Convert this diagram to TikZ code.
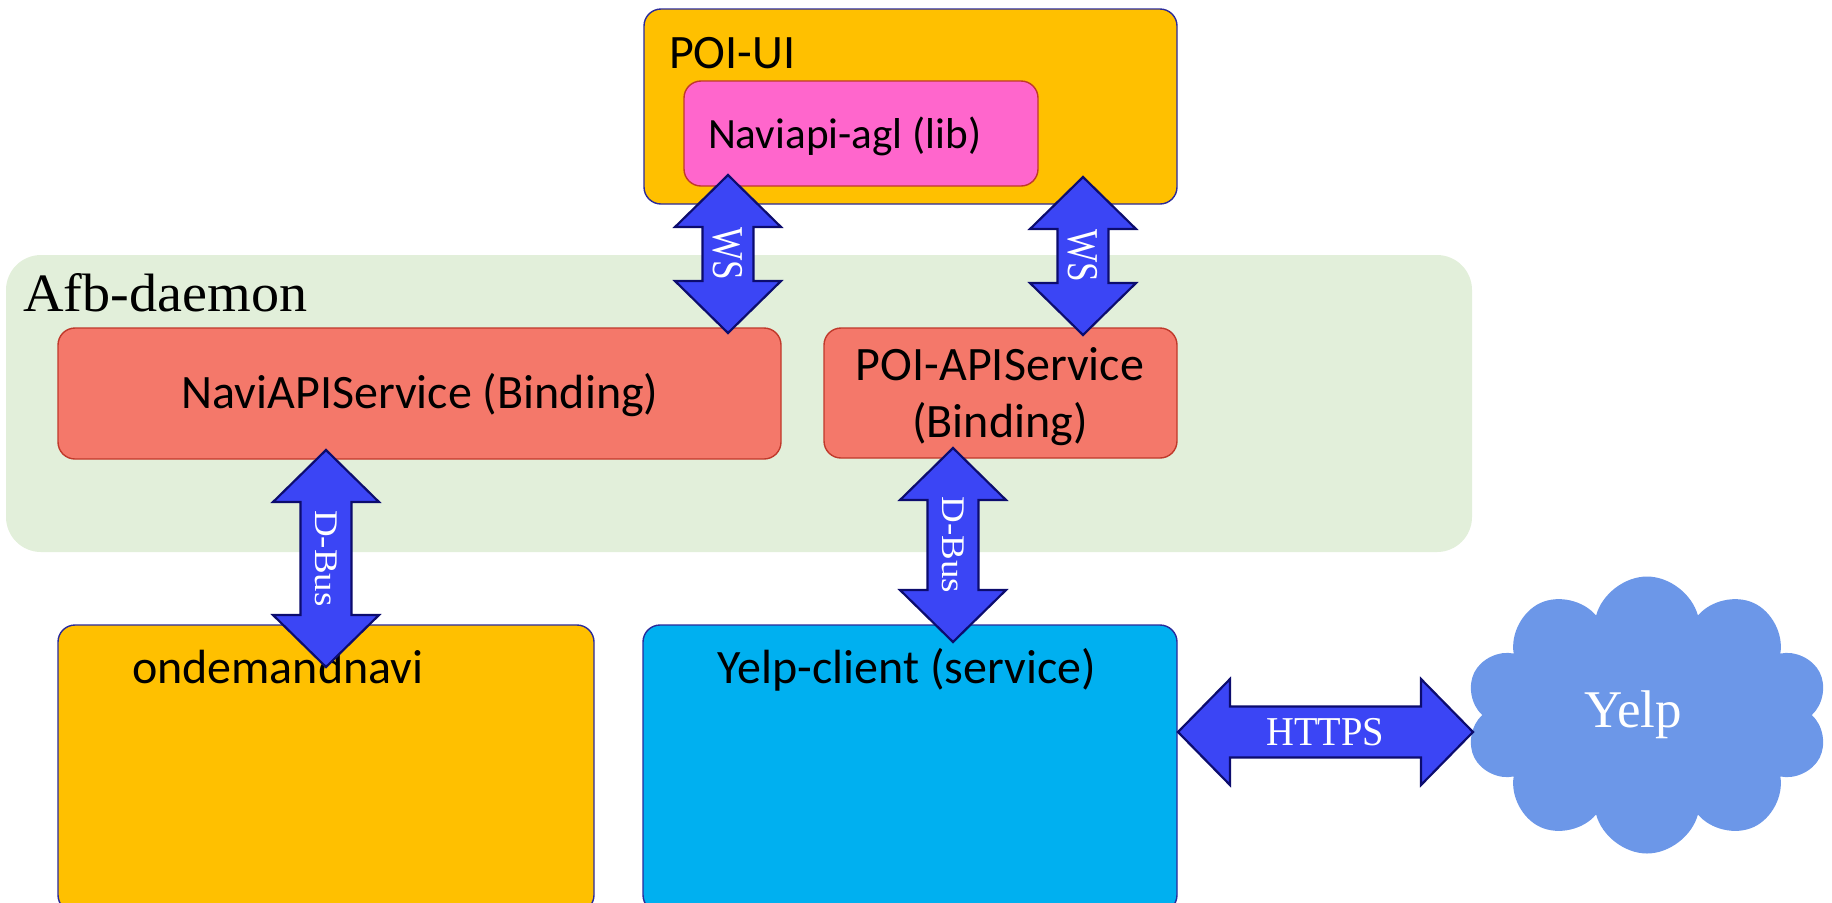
\documentclass[tikz,border=0pt]{standalone}
\usepackage{fontspec}
\setmainfont{Liberation Serif}
\newfontfamily\carlito{Carlito}
\usetikzlibrary{shapes.symbols,calc}
\definecolor{poiorange}{HTML}{FFC000}
\definecolor{libpink}{HTML}{FF66CC}
\definecolor{svcsalmon}{HTML}{F4786A}
\definecolor{afbgreen}{HTML}{E2EFDA}
\definecolor{yelpcyan}{HTML}{00B0F0}
\definecolor{arrowblue}{HTML}{3B45F5}
\definecolor{arrownavy}{HTML}{0C0C6E}
\definecolor{boxnavy}{HTML}{2A2A9A}
\definecolor{boxred}{HTML}{C0392B}
\definecolor{cloudblue}{HTML}{6C97E8}
\def\ahw{26.5pt}
\def\asw{12.75pt}
\def\ahl{26pt}
\newcommand\vblock[2]{%
  \draw[blockarrow] let \p1=(#1), \p2=(#2) in
    (\x1,\y1) -- (\x1+\ahw,\y1-\ahl) -- (\x1+\asw,\y1-\ahl) -- (\x1+\asw,\y2+\ahl)
    -- (\x1+\ahw,\y2+\ahl) -- (\x1,\y2) -- (\x1-\ahw,\y2+\ahl) -- (\x1-\asw,\y2+\ahl)
    -- (\x1-\asw,\y1-\ahl) -- (\x1-\ahw,\y1-\ahl) -- cycle;}
\newcommand\hblock[2]{%
  \draw[blockarrow] let \p1=(#1), \p2=(#2) in
    (\x1,\y1) -- (\x1+\ahl,\y1+\ahw) -- (\x1+\ahl,\y1+\asw) -- (\x2-\ahl,\y1+\asw)
    -- (\x2-\ahl,\y1+\ahw) -- (\x2,\y1) -- (\x2-\ahl,\y1-\ahw) -- (\x2-\ahl,\y1-\asw)
    -- (\x1+\ahl,\y1-\asw) -- (\x1+\ahl,\y1-\ahw) -- cycle;}
\begin{document}
\begin{tikzpicture}[x=0.5pt,y=-0.5pt,
  box/.style={rectangle, rounded corners=8.5pt, inner sep=0pt, outer sep=0pt, anchor=north west, line width=0.7pt},
  bluebox/.style={box, draw=boxnavy},
  redbox/.style={box, draw=boxred},
  sanslbl/.style={font=\carlito\fontsize{24pt}{29pt}\selectfont, text=black, inner sep=0pt, outer sep=0pt},
  arrowlbl/.style={text=white, inner sep=0pt, outer sep=0pt},
  blockarrow/.style={fill=arrowblue, draw=arrownavy, line width=1.1pt, line join=miter}]
\useasboundingbox (0,0) rectangle (1832,902);
% background container
\node[box, fill=afbgreen, rounded corners=17.5pt, minimum width=733pt, minimum height=148.5pt] (afb) at (6,255) {};
\node[anchor=base west, inner sep=0pt, font=\fontsize{27pt}{30pt}\selectfont] (afblbl) at (23,311) {\scalebox{1.04}[1]{Afb-daemon}};
% POI-UI
\node[bluebox, fill=poiorange, minimum width=266.5pt, minimum height=97.5pt] (poiui) at (644,9) {};
\node[sanslbl, anchor=base west] (poiuilbl) at (669,68) {POI-UI};
\node[redbox, fill=libpink, minimum width=177pt, minimum height=52.5pt] (navilib) at (684,81) {};
\node[sanslbl, anchor=base west, font=\carlito\fontsize{21.6pt}{26pt}\selectfont] (navilibbl) at (708,148) {Naviapi-agl (lib)};
% bindings
\node[redbox, fill=svcsalmon, minimum width=361.5pt, minimum height=65.5pt] (navisvc) at (58,328) {};
\node[sanslbl, anchor=base] (navisvclbl) at (420,408) {NaviAPIService (Binding)};
\node[redbox, fill=svcsalmon, minimum width=176.5pt, minimum height=65pt] (poisvc) at (824,328) {};
\node[sanslbl, anchor=base] (poisvclbl1) at (1000,380) {POI-APIService};
\node[sanslbl, anchor=base] (poisvclbl2) at (1000,437) {(Binding)};
% services
\node[bluebox, fill=poiorange, minimum width=268pt, minimum height=143.5pt] (ondemand) at (58,625) {};
\node[sanslbl, anchor=base west] (ondemandlbl) at (132,683) {ondemandnavi};
\node[bluebox, fill=yelpcyan, minimum width=267pt, minimum height=143.5pt] (yelpc) at (643,625) {};
\node[sanslbl, anchor=base] (yelpclbl) at (907,683) {Yelp-client (service)};
% cloud
\node[cloud, cloud puffs=10, aspect=1.3, fill=cloudblue, inner sep=0pt, minimum width=181.5pt, minimum height=138.5pt] (yelp) at (1647,715) {};
\node[arrowlbl, anchor=base, font=\fontsize{26.5pt}{30pt}\selectfont] (yelplbl) at (1633,727) {Yelp};
% connector end points
\coordinate (ws1a) at (728,175);
\coordinate (ws1b) at (728,333);
\coordinate (ws2a) at (1083,177);
\coordinate (ws2b) at (1083,335);
\coordinate (db1a) at (326,450);
\coordinate (db1b) at (326,667);
\coordinate (db2a) at (953,448);
\coordinate (db2b) at (953,642);
\coordinate (ht1) at (1178,732);
\coordinate (ht2) at (1473,732);
\vblock{ws1a}{ws1b}
\vblock{ws2a}{ws2b}
\vblock{db1a}{db1b}
\vblock{db2a}{db2b}
\hblock{ht1}{ht2}
\node[arrowlbl, rotate=-90, font=\fontsize{22pt}{24pt}\selectfont] (ws1lbl) at ($(ws1a)!0.5!(ws1b)$) {\scalebox{0.8}[1]{WS}};
\node[arrowlbl, rotate=-90, font=\fontsize{22pt}{24pt}\selectfont] (ws2lbl) at ($(ws2a)!0.5!(ws2b)$) {\scalebox{0.8}[1]{WS}};
\node[arrowlbl, rotate=-90, font=\fontsize{16.5pt}{20pt}\selectfont] (db1lbl) at ($(db1a)!0.5!(db1b)$) {\scalebox{1.12}[1]{D-Bus}};
\node[arrowlbl, rotate=-90, font=\fontsize{16.5pt}{20pt}\selectfont] (db2lbl) at ($(db2a)!0.5!(db2b)$) {\scalebox{1.12}[1]{D-Bus}};
\node[arrowlbl, font=\fontsize{20.5pt}{24pt}\selectfont] (htlbl) at ($(ht1)!0.5!(ht2)$) {\scalebox{0.94}[1]{HTTPS}};
\end{tikzpicture}
\end{document}
